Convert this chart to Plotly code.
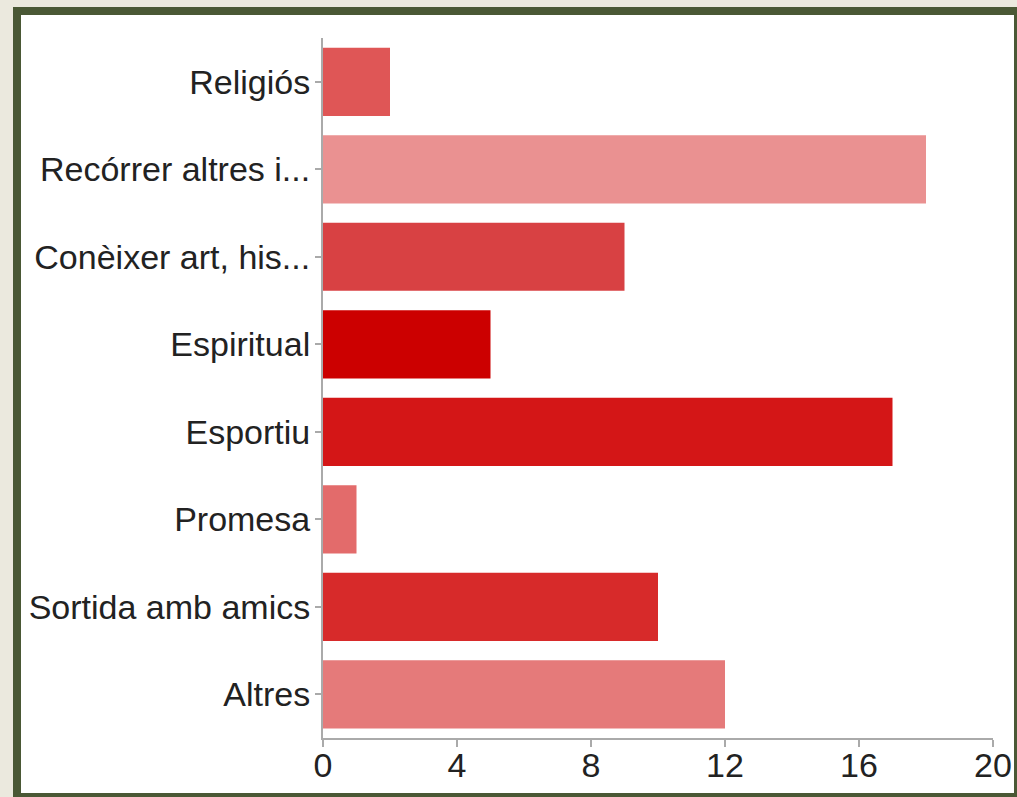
import plotly.graph_objects as go

categories = ["Religiós", "Recórrer altres i...", "Conèixer art, his...", "Espiritual",
              "Esportiu", "Promesa", "Sortida amb amics", "Altres"]
values = [2, 18, 9, 5, 17, 1, 10, 12]
colors = ["#df5656", "#ea9191", "#d84143", "#cc0000", "#d41617", "#e36b6b", "#d72a2a", "#e57a7a"]
x_ticks = [0, 4, 8, 12, 16, 20]

W, H = 1017, 797
L, R, T, B = 323, 993, 38, 738

def px(x):
    return (x - L) / (R - L)

def py(y):
    return (B - y) / (B - T)

fig = go.Figure(go.Bar(
    x=values, y=categories, orientation="h",
    marker=dict(color=colors, line=dict(width=0)),
    hoverinfo="x+y",
))

fig.update_layout(
    width=W, height=H,
    margin=dict(l=L, r=W - R, t=T, b=H - B, pad=0, autoexpand=False),
    paper_bgcolor="#ebe9de",
    plot_bgcolor="rgba(0,0,0,0)",
    bargap=0.22,
    showlegend=False,
    font=dict(family="Liberation Sans, Arial, sans-serif", size=34, color="#222222"),
    shapes=[
        dict(type="rect", xref="paper", yref="paper", layer="below",
             x0=px(13), x1=px(1017), y0=py(797), y1=py(7),
             fillcolor="#4a5835", line=dict(width=0)),
        dict(type="rect", xref="paper", yref="paper", layer="below",
             x0=px(21), x1=px(1014), y0=py(793), y1=py(15),
             fillcolor="#ffffff", line=dict(width=0)),
    ],
)

fig.update_xaxes(
    automargin=False,
    range=[0, 20], tickvals=x_ticks, ticktext=[str(v) for v in x_ticks],
    showgrid=False, zeroline=False,
    showline=True, linecolor="#aaaaaa", linewidth=2,
    ticks="outside", ticklen=7, tickwidth=2, tickcolor="#aaaaaa",
    tickfont=dict(size=34, color="#222222"),
    ticklabelstandoff=-11,
)
fig.update_yaxes(
    automargin=False,
    autorange="reversed",
    showgrid=False, zeroline=False,
    showline=True, linecolor="#aaaaaa", linewidth=2,
    ticks="outside", ticklen=6, tickwidth=2, tickcolor="#aaaaaa",
    tickfont=dict(size=34, color="#222222"),
    ticklabelstandoff=-2,
)

post = """
var s = 'margin:0;padding:0;overflow:hidden;background:#ebe9de;';
document.documentElement.style.cssText = s;
document.body.style.cssText = s;
"""

fig.write_html("out.html", post_script=post, config={"displayModeBar": False})
